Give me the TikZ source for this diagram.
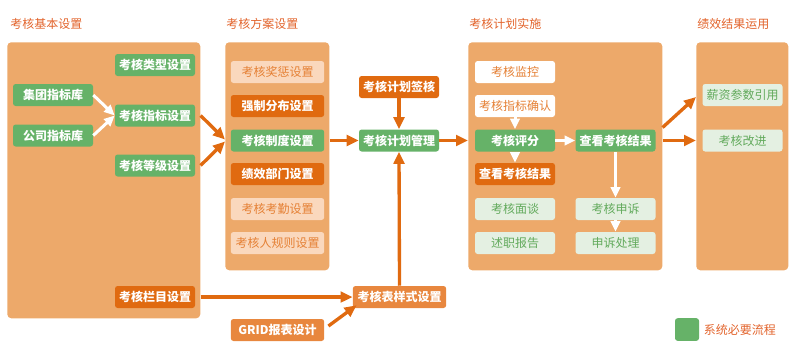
\documentclass[tikz,border=0pt]{standalone}
\usepackage{fontspec}
\newfontfamily\cjk{Noto Sans CJK SC}
\usetikzlibrary{arrows.meta,calc}
\definecolor{panelc}{HTML}{EDA96A}
\definecolor{greenc}{HTML}{66B268}
\definecolor{darkor}{HTML}{E06A10}
\definecolor{midor}{HTML}{E8873E}
\definecolor{peach}{HTML}{FAD8BD}
\definecolor{paleg}{HTML}{E4F0E2}
\definecolor{paletext}{HTML}{62AA5C}
\definecolor{titlec}{HTML}{E2632B}
\newcommand{\boxfont}{\cjk\fontsize{9}{11}\selectfont}
\begin{document}
\begin{tikzpicture}[x=0.75pt, y=-0.75pt,
    panel/.style={fill=panelc, rounded corners=3pt, inner sep=0pt, anchor=north west, minimum height=171pt},
    title/.style={anchor=west, inner sep=0pt, text=titlec, font=\boxfont},
    box/.style={rounded corners=2pt, minimum width=60pt, minimum height=16.5pt, inner sep=0pt, font=\boxfont},
    wide/.style={minimum width=70pt},
    sysbox/.style={box, fill=greenc, text=white, font=\boxfont\bfseries},
    darkbox/.style={box, fill=darkor, text=white, font=\boxfont\bfseries},
    midbox/.style={box, fill=midor, text=white, font=\boxfont\bfseries},
    lightbox/.style={box, fill=peach, text=darkor!85!white},
    whitebox/.style={box, fill=white, text=darkor!85!white},
    palebox/.style={box, fill=paleg, text=paletext},
    flow/.style={draw=darkor, line width=2.5pt, -{Triangle[length=9pt,width=8pt]}},
    wflow/.style={draw=white, line width=2.25pt, -{Triangle[length=8pt,width=7pt]}}]
  \useasboundingbox (0,0) rectangle (798,355);
  % panels
  \node[panel, minimum width=144.75pt, minimum height=207pt] (basic) at (7,42) {};
  \node[panel, minimum width=78pt]    (scheme) at (225,42) {};
  \node[panel, minimum width=145.5pt] (impl)   at (468,42) {};
  \node[panel, minimum width=69pt]    (useb)   at (696,42) {};
  \node[title] (t1) at (10,24)  {考核基本设置};
  \node[title] (t2) at (226,24) {考核方案设置};
  \node[title] (t3) at (469,24) {考核计划实施};
  \node[title] (t4) at (697,24) {绩效结果运用};
  % basic settings
  \node[sysbox]  (typeset)  at (155,65)    {考核类型设置};
  \node[sysbox]  (grouplib) at (53,95)     {集团指标库};
  \node[sysbox]  (idxset)   at (155,115.5) {考核指标设置};
  \node[sysbox]  (complib)  at (53,135.5)  {公司指标库};
  \node[sysbox]  (gradeset) at (155,165.5) {考核等级设置};
  \node[darkbox] (colset)   at (155,297)   {考核栏目设置};
  % scheme settings
  \node[lightbox, wide] (rewset)   at (277.5,72)    {考核奖惩设置};
  \node[darkbox, wide]  (forceset) at (277.5,106)   {强制分布设置};
  \node[sysbox, wide]   (ruleset)  at (277.5,140.5) {考核制度设置};
  \node[darkbox, wide]  (deptset)  at (277.5,174)   {绩效部门设置};
  \node[lightbox, wide] (attset)   at (277.5,209)   {考核考勤设置};
  \node[lightbox, wide] (raterset) at (277.5,243)   {考核人规则设置};
  % plan
  \node[darkbox]      (plansign) at (399,87)    {考核计划签核};
  \node[sysbox]       (planmgmt) at (399,140.5) {考核计划管理};
  \node[midbox, wide] (tplset)   at (399.5,297) {考核表样式设置};
  \node[midbox, wide] (gridrep)  at (277.5,330) {GRID报表设计};
  % implementation
  \node[whitebox] (monitor) at (515,72)      {考核监控};
  \node[whitebox] (idxconf) at (515,106)     {考核指标确认};
  \node[sysbox]   (scoring) at (515,140.5)   {考核评分};
  \node[sysbox]   (result)  at (615.5,140.5) {查看考核结果};
  \node[darkbox]  (result2) at (515,174)     {查看考核结果};
  \node[palebox]  (talk)    at (515,209)     {考核面谈};
  \node[palebox]  (report)  at (515,243)     {述职报告};
  \node[palebox]  (appeal)  at (615.5,209)   {考核申诉};
  \node[palebox]  (handle)  at (615.5,243)   {申诉处理};
  % results
  \node[palebox] (salary)  at (742.5,95)    {薪资参数引用};
  \node[palebox] (improve) at (742.5,140.5) {考核改进};
  % legend
  \node[fill=greenc, rounded corners=2pt, minimum width=18pt, minimum height=17pt, inner sep=0pt] (legsq) at (687,329.5) {};
  \node[anchor=west, text=titlec, font=\boxfont] (legtxt) at (legsq.east) {系统必要流程};
  % white arrows
  \draw[wflow] (grouplib.east) -- (idxset.west);
  \draw[wflow] (complib.east) -- (idxset.west);
  \draw[wflow] (idxconf.south) -- (scoring.north);
  \draw[wflow] (scoring.east) -- (result.west);
  \draw[wflow] (scoring.south) -- (result2.north);
  \draw[wflow] (result.south) -- (appeal.north);
  \draw[wflow] (appeal.south) -- (handle.north);
  % orange arrows
  \draw[flow] (basic.east |- idxset) -- ($(scheme.west |- ruleset)+(0,-1)$);
  \draw[flow] (basic.east |- gradeset) -- ($(scheme.west |- ruleset)+(0,1)$);
  \draw[flow] (scheme.east |- ruleset) -- (planmgmt.west);
  \draw[flow] (plansign.south) -- (planmgmt.north);
  \draw[flow] (planmgmt.east) -- (impl.west |- planmgmt);
  \draw[flow] (tplset.north) -- (planmgmt.south);
  \draw[flow] (basic.east |- colset) -- (tplset.west);
  \draw[flow] ($(gridrep.east)+(4,-4)$) -- ($(tplset.south west)+(4,-3)$);
  \draw[flow] ($(impl.east |- planmgmt)+(0,-13)$) -- ($(useb.west |- salary)+(0,2)$);
  \draw[flow] (impl.east |- planmgmt) -- (useb.west |- improve);
\end{tikzpicture}
\end{document}
